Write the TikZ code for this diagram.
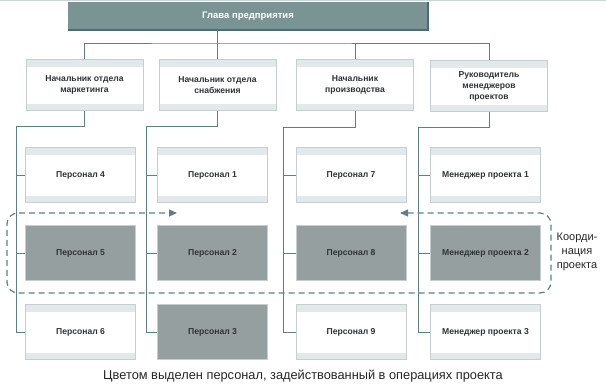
\documentclass[tikz,border=0pt]{standalone}
\usepackage{fontspec}
\setmainfont{Liberation Sans}
\usepackage{tikz}
\usetikzlibrary{arrows.meta,calc,positioning}
\definecolor{linkteal}{HTML}{5F7F84}
\definecolor{headfill}{HTML}{7A9494}
\definecolor{headshade}{HTML}{4E6C70}
\definecolor{boxedge}{HTML}{C5CFD1}
\definecolor{boxband}{HTML}{E3E9EA}
\definecolor{busyfill}{HTML}{959F9F}
\definecolor{textgray}{HTML}{2E3434}
\definecolor{rulegray}{HTML}{C9D5D8}
\tikzset{
  headbox/.style={fill=headfill, minimum width=360pt, minimum height=28pt, inner sep=0pt, text=white, font=\bfseries\fontsize{9.5}{11}\selectfont},
  unitbox/.style={draw=boxedge, fill=white, minimum width=117pt, minimum height=51pt, inner sep=0pt, align=center, text=textgray, font=\bfseries\fontsize{8.6}{11}\selectfont,
    path picture={
      \fill[boxband] (path picture bounding box.north west) rectangle ([yshift=-7pt]path picture bounding box.north east);
      \fill[boxband] (path picture bounding box.south west) rectangle ([yshift=7pt]path picture bounding box.south east);}},
  staffbox/.style={unitbox, minimum width=110pt, minimum height=55pt},
  busybox/.style={draw=boxedge, fill=busyfill, minimum width=110pt, minimum height=55pt, inner sep=0pt, align=center, text=textgray, font=\bfseries\fontsize{8.6}{11}\selectfont},
  link/.style={linkteal, line width=0.9pt},
  coordline/.style={linkteal, line width=1.2pt, dash pattern=on 6pt off 4pt, rounded corners=11pt, {Triangle[length=8pt,width=7pt]}-{Triangle[length=8pt,width=7pt]}},
  note/.style={font=\fontsize{11}{14}\selectfont, text=black!85, align=center}
}

\begin{document}
\begin{tikzpicture}[x=1pt,y=-1pt]
  \useasboundingbox (0,0) rectangle (606,386);
  \draw[rulegray, line width=1pt] (0,0.5) -- (606,0.5);
  % head of the company
  \node[headbox] (head) at (248,16) {Глава предприятия};
  \draw[headshade, line width=1.5pt] (head.south west) -- (head.south east) -- (head.north east);
  % department heads
  \node[unitbox] (mkt) at (84.5,85) {Начальник отдела\\маркетинга};
  \node[unitbox] (sup) at (217.5,85) {Начальник отдела\\снабжения};
  \node[unitbox] (prod) at (355,85) {Начальник\\производства};
  \node[unitbox] (pm) at (489,86) {Руководитель\\менеджеров\\проектов};
  % staff
  \node[staffbox] (p4) at (80.5,175) {Персонал 4};
  \node[busybox] (p5) at (80.5,253) {Персонал 5};
  \node[staffbox] (p6) at (80.5,332) {Персонал 6};
  \node[staffbox] (p1) at (212.5,175) {Персонал 1};
  \node[busybox] (p2) at (212.5,253) {Персонал 2};
  \node[busybox] (p3) at (212.5,332) {Персонал 3};
  \node[staffbox] (p7) at (351,175) {Персонал 7};
  \node[busybox] (p8) at (351,253) {Персонал 8};
  \node[staffbox] (p9) at (351,332) {Персонал 9};
  \node[staffbox] (mg1) at (485.5,175) {Менеджер проекта 1};
  \node[busybox] (mg2) at (485.5,253) {Менеджер проекта 2};
  \node[staffbox] (mg3) at (485.5,332) {Менеджер проекта 3};
  % top level links
  \coordinate (bus) at (217,43);
  \draw[link] (head.south -| bus) -- (bus);
  \draw[link] (mkt.north) |- (bus) -| (pm.north);
  \draw[link] (sup.north) -- (sup.north |- bus);
  \draw[link] (prod.north) -- (prod.north |- bus);
  % department spines
  \coordinate (spA) at (16,126);
  \coordinate (spB) at (146,126);
  \coordinate (spC) at (283,127);
  \coordinate (spD) at (418,127);
  \foreach \dep/\sp/\a/\b/\c in {mkt/spA/p4/p5/p6, sup/spB/p1/p2/p3, prod/spC/p7/p8/p9, pm/spD/mg1/mg2/mg3}{
    \draw[link] (\dep.south) |- (\sp) |- (\c.west);
    \foreach \n in {\a,\b}
      \draw[link] (\sp |- \n.west) -- (\n.west);
  }
  % project coordination
  \coordinate (crdL) at (177,213);
  \coordinate (crdR) at (400,213);
  \draw[coordline] (crdR) -- (551,213) -- (551,293) -- (7,293) -- (7,213) -- (crdL);
  \node[note] (crdtext) at (577,252) {Коорди-\\нация\\проекта};
  \node[note, font=\fontsize{12.8}{14}\selectfont] (caption) at (303,376) {Цветом выделен персонал, задействованный в операциях проекта};
\end{tikzpicture}
\end{document}
